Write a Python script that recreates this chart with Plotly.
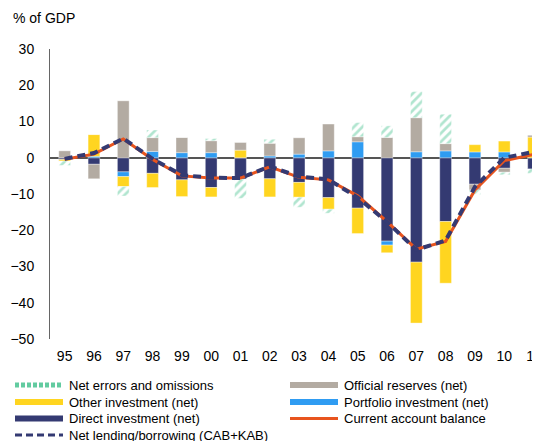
import plotly.graph_objects as go

# years (last two digits)
years = ['95', '96', '97', '98', '99', '00', '01', '02', '03', '04',
         '05', '06', '07', '08', '09', '10', '11']

# components, % of GDP
direct = [-0.5, -1.8, -3.9, -4.3, -6.1, -8.2, -5.9, -5.8, -6.8, -11.0,
          -13.9, -23.0, -28.8, -17.6, -7.3, -2.9, -3.1]
portfolio = [0, 0.4, -1.3, 1.75, 1.4, 1.4, 0, 0.5, 1.0, 1.9,
             4.4, -1.1, 1.65, 1.9, 1.6, 1.6, 0]
other = [-0.4, 6.0, -2.75, -3.9, -4.6, -2.6, 2.1, -5.0, -4.1, -3.2,
         -7.0, -2.1, -16.8, -17.0, 2.0, 3.0, 5.7]
reserves = [1.9, -4.0, 15.7, 3.8, 4.2, 3.3, 2.1, 3.5, 4.5, 7.4,
            1.4, 5.6, 9.4, 2.0, -1.6, -1.1, 0.5]
errors = [-1.2, 0, -2.6, 2.1, 0, 0.6, -5.3, 1.1, -2.75, -1.1,
          3.9, 3.2, 7.2, 8.1, -1.2, -0.7, -1.2]

cab = [-0.4, 1.0, 5.2, -0.5, -5.0, -5.6, -5.6, -2.5, -5.4, -6.1,
       -10.5, -17.6, -25.2, -23.1, -8.9, -0.8, 0.9]
nlb = [-0.3, 1.3, 5.3, -0.3, -4.8, -5.5, -5.6, -2.4, -5.2, -6.0,
       -11.0, -17.7, -25.4, -22.8, -8.0, 0.0, 1.6]

NAVY = '#343a72'
BLUE = '#2f9cf2'
YELLOW = '#ffd520'
GRAY = '#b3aba2'
GREEN = '#62cba0'
ORANGE = '#e8541e'

# page body has an 8px margin, so the figure sits at (8, 8)
OFF = 8
W, H = 540 - OFF, 441 - OFF
L, R, T, B = 50 - OFF, 0, 49 - OFF, H - (339 - OFF)
PW, PH = W - L - R, H - T - B


def px(x):
    return (x - OFF - L) / PW


def py(y):
    return (H - B - (y - OFF)) / PH


fig = go.Figure()

# stacked bars (stack order: direct, portfolio, other, reserves, errors)
bar_specs = [
    (direct, NAVY, None),
    (portfolio, BLUE, None),
    (other, YELLOW, None),
    (reserves, GRAY, None),
    (errors, 'white', dict(shape='/', fgcolor=GREEN, bgcolor='white', size=6, solidity=0.45)),
]
for vals, col, pat in bar_specs:
    marker = dict(color=col, line=dict(width=0.6, color='rgba(255,255,255,0.6)'))
    if pat:
        marker['pattern'] = pat
    fig.add_trace(go.Bar(x=years, y=vals, width=0.4, marker=marker,
                         showlegend=False, hoverinfo='y'))

fig.add_trace(go.Scatter(x=years, y=cab, mode='lines', showlegend=False,
                         line=dict(color=ORANGE, width=3)))
fig.add_trace(go.Scatter(x=years, y=nlb, mode='lines', showlegend=False,
                         line=dict(color=NAVY, width=4, dash='8px,5px')))

# legend drawn by hand (two columns, tight rows)
legend_items = [
    ('Net errors and omissions', GREEN, 5, '4px,2px', 15, 385),
    ('Official reserves (net)', GRAY, 6, 'solid', 290, 385),
    ('Other investment (net)', YELLOW, 6, 'solid', 15, 402),
    ('Portfolio investment (net)', BLUE, 6, 'solid', 290, 402),
    ('Direct investment (net)', NAVY, 6, 'solid', 15, 418.5),
    ('Current account balance', ORANGE, 3, 'solid', 290, 418.5),
    ('Net lending/borrowing (CAB+KAB)', NAVY, 3, '7px,4px', 15, 435),
]
for name, col, w, dash, lx, ly in legend_items:
    fig.add_shape(type='line', xref='paper', yref='paper',
                  x0=px(lx), x1=px(lx + 48), y0=py(ly), y1=py(ly),
                  line=dict(color=col, width=w, dash=dash))
    fig.add_annotation(text=name, xref='paper', yref='paper',
                       x=px(lx + 52), y=py(ly), xanchor='left', yanchor='middle',
                       showarrow=False, font=dict(size=13, color='black'))

fig.add_annotation(text='% of GDP', xref='paper', yref='paper',
                   x=px(11), y=py(18), xanchor='left', yanchor='middle',
                   showarrow=False, font=dict(size=14, color='black'))

fig.update_layout(
    width=W, height=H,
    margin=dict(l=L, r=R, t=T, b=B, autoexpand=False),
    barmode='relative',
    showlegend=False,
    plot_bgcolor='white', paper_bgcolor='white',
    font=dict(family='Liberation Sans, Arial', size=14, color='black'),
)
fig.update_xaxes(type='category', range=[-0.5, 16.22], showgrid=False,
                 showline=False, ticks='', ticklabelstandoff=7,
                 tickfont=dict(size=14))
fig.update_yaxes(range=[-50, 30], dtick=10, showgrid=False, showline=True,
                 linecolor='#666', linewidth=1, ticks='', ticklabelstandoff=12,
                 zeroline=True, zerolinecolor='#555', zerolinewidth=1.5,
                 tickfont=dict(size=14))

fig.write_html("out.html")
